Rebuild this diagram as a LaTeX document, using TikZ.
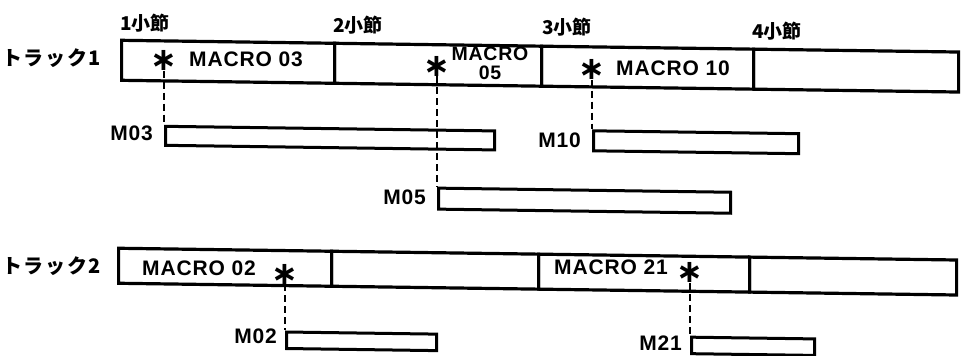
\documentclass[tikz,border=0pt]{standalone}
\usepackage{fontspec}
\setmainfont{Liberation Sans}[LetterSpace=4]
\newfontfamily\jpfont{Noto Sans CJK JP}
\newfontfamily\jpspaced{Noto Sans CJK JP}[LetterSpace=8]
\newfontfamily\symfont{DejaVu Sans}
\begin{document}
\begin{tikzpicture}[x=1pt,y=-1pt,
  cell/.style={draw, line width=3.2pt, inner sep=0pt, anchor=north west, transform shape},
  mbox/.style={draw, line width=3pt, inner sep=0pt, anchor=north west, transform shape},
  lbl/.style={inner sep=0pt, font=\fontsize{21}{21}\selectfont\bfseries},
  barlbl/.style={inner sep=0pt, anchor=west, font=\fontsize{19}{19}\selectfont\jpfont\bfseries},
  trklbl/.style={inner sep=0pt, anchor=east, font=\fontsize{20}{20}\selectfont\jpspaced\bfseries},
  astx/.style={inner sep=0pt, font=\fontsize{32}{32}\selectfont\symfont\bfseries},
  conn/.style={line width=1.3pt, dash pattern=on 7pt off 4pt}]
\useasboundingbox (0,0) rectangle (964,356);
\begin{scope}[yslant=-0.014]
% bar labels
\node[barlbl] (b1) at (120,21) {1小節};
\node[barlbl] (b2) at (333,21) {2小節};
\node[barlbl] (b3) at (542,20) {3小節};
\node[barlbl] (b4) at (752,21) {4小節};
% track labels
\node[trklbl] (tr1) at (101,57) {トラック1};
\node[trklbl] (tr2) at (101,265) {トラック2};
% track 1 cells
\node[cell, minimum width=213pt, minimum height=40pt] (a1) at (120,37) {};
\node[cell, minimum width=207pt, minimum height=40pt] (a2) at (333,37) {};
\node[cell, minimum width=212pt, minimum height=40pt] (a3) at (540,37) {};
\node[cell, minimum width=205pt, minimum height=40pt] (a4) at (752,37) {};
% track 2 cells
\node[cell, minimum width=213pt, minimum height=35pt] (c1) at (117,245) {};
\node[cell, minimum width=207pt, minimum height=35pt] (c2) at (330,245) {};
\node[cell, minimum width=211pt, minimum height=35pt] (c3) at (537,245) {};
\node[cell, minimum width=207pt, minimum height=35pt] (c4) at (748,245) {};
% track 1 contents
\node[astx] (as1) at (164,58) {∗};
\node[lbl, anchor=west] (t03) at (189,57) {MACRO 03};
\node[astx] (as2) at (437,60) {∗};
\node[lbl, align=center, font=\fontsize{19.5}{19.5}\selectfont\bfseries] (t05) at (490,56.5) {MACRO\\05};
\node[astx] (as3) at (592,61) {∗};
\node[lbl, anchor=west] (t10) at (616,60) {MACRO 10};
% track 2 contents
\node[lbl, anchor=west] (t02) at (142,266) {MACRO 02};
\node[astx] (as4) at (285,270) {∗};
\node[lbl, anchor=west] (t21) at (554,260) {MACRO 21};
\node[astx] (as5) at (690,263) {∗};
% macro boxes
\node[mbox, minimum width=329pt, minimum height=19pt] (m03) at (164,122.5) {};
\node[mbox, minimum width=205pt, minimum height=20pt] (m10) at (592,121) {};
\node[mbox, minimum width=292pt, minimum height=21pt] (m05) at (437,180.5) {};
\node[mbox, minimum width=150pt, minimum height=16.5pt] (m02) at (285,326.5) {};
\node[mbox, minimum width=123pt, minimum height=16.5pt] (m21) at (690,326) {};
% macro labels
\node[lbl, anchor=east] (l03) at (153,131) {M03};
\node[lbl, anchor=east] (l10) at (581,132) {M10};
\node[lbl, anchor=east] (l05) at (426,191.5) {M05};
\node[lbl, anchor=east] (l02) at (277,332) {M02};
\node[lbl, anchor=east] (l21) at (682,334) {M21};
% connectors
\draw[conn] (as1.south) -- (m03.north west);
\draw[conn] (as2.south) -- (m05.north west);
\draw[conn] (as3.south) -- (m10.north west);
\draw[conn] (as4.south) -- (m02.north west);
\draw[conn] (as5.south) -- (m21.north west);
\end{scope}
\end{tikzpicture}
\end{document}
